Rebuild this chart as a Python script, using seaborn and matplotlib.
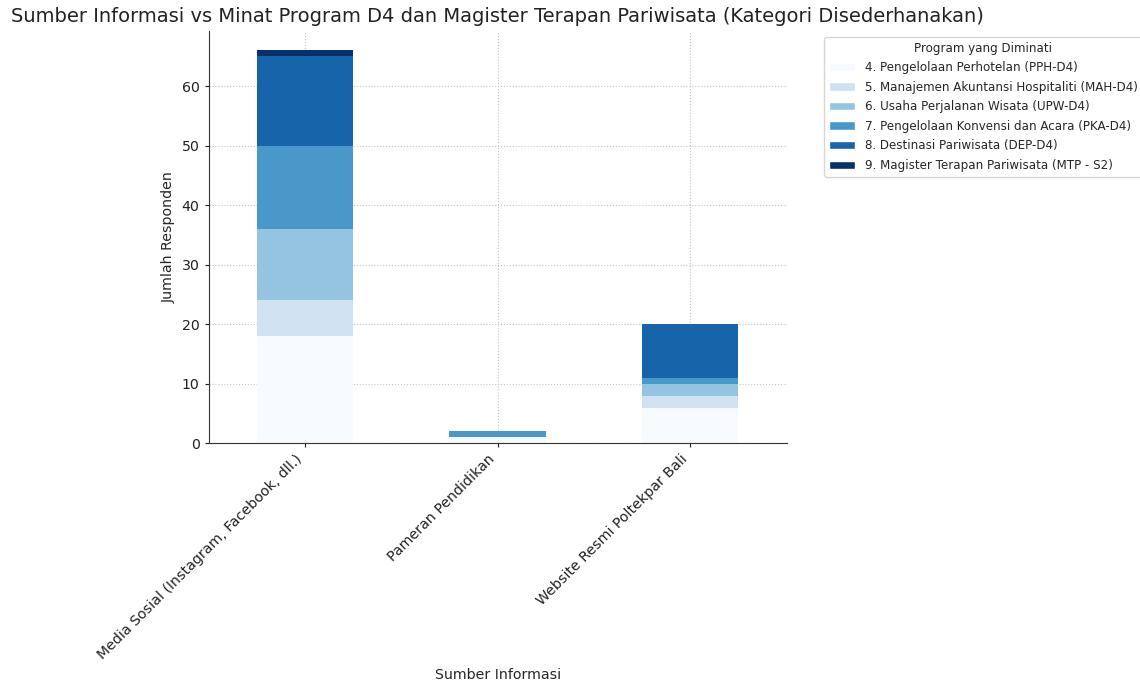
import numpy as np
import pandas as pd
import matplotlib
matplotlib.use("Agg")
import matplotlib.pyplot as plt
import seaborn as sns
from matplotlib.patches import Patch

# Data
sources = ["Media Sosial (Instagram, Facebook, dll.)", "Pameran Pendidikan", "Website Resmi Poltekpar Bali"]
programs = [
    "4. Pengelolaan Perhotelan (PPH-D4)",
    "5. Manajemen Akuntansi Hospitaliti (MAH-D4)",
    "6. Usaha Perjalanan Wisata (UPW-D4)",
    "7. Pengelolaan Konvensi dan Acara (PKA-D4)",
    "8. Destinasi Pariwisata (DEP-D4)",
    "9. Magister Terapan Pariwisata (MTP - S2)",
]
pph = [18, 1, 6]
mah = [6, 0, 2]
upw = [12, 0, 2]
pka = [14, 1, 1]
dep = [15, 0, 9]
mtp = [1, 0, 0]

counts = [pph, mah, upw, pka, dep, mtp]
colors = plt.cm.Blues(np.linspace(0, 1, len(programs)))

sns.set_style("white")
plt.rcParams['font.family'] = ['DejaVu Sans']

fig, ax = plt.subplots(figsize=(11.4, 6.84), dpi=100)

bottom = np.zeros(len(sources))
for prog, vals, col in zip(programs, counts, colors):
    df = pd.DataFrame({"Sumber": sources, "Jumlah": vals})
    sns.barplot(data=df, x="Sumber", y="Jumlah", color=col, bottom=bottom,
                width=0.5, ax=ax, saturation=1, edgecolor="none")
    bottom += np.array(vals)

ax.set_xlim(-0.5, 2.5)
ax.set_ylim(0, bottom.max() * 1.05)
ax.grid(True, linestyle=":", color="#c4c4c4", linewidth=0.8)
for s in ["top", "right"]:
    ax.spines[s].set_visible(False)
ax.spines["left"].set_color("#333333")
ax.spines["bottom"].set_color("#333333")
ax.tick_params(axis="both", length=3, labelsize=10.2, colors="#222222", left=True, bottom=True)

ax.set_xticks(range(len(sources)))
ax.set_xticklabels(sources, rotation=45, ha="right")
ax.set_title("Sumber Informasi vs Minat Program D4 dan Magister Terapan Pariwisata (Kategori Disederhanakan)",
             fontsize=14, color="#222222")
ax.set_xlabel("Sumber Informasi", fontsize=10.2, labelpad=4)
ax.set_ylabel("Jumlah Responden", fontsize=10.2)

handles = [Patch(facecolor=c, label=p) for p, c in zip(programs, colors)]
leg = ax.legend(handles=handles, title="Program yang Diminati", loc="upper left",
                bbox_to_anchor=(1.055, 1.0), fontsize=8.6, title_fontsize=8.6,
                labelspacing=0.55, handlelength=2.2)

fig.subplots_adjust(left=0.183, right=0.69, top=0.955, bottom=0.352)
fig.savefig("out.png", dpi=100)
